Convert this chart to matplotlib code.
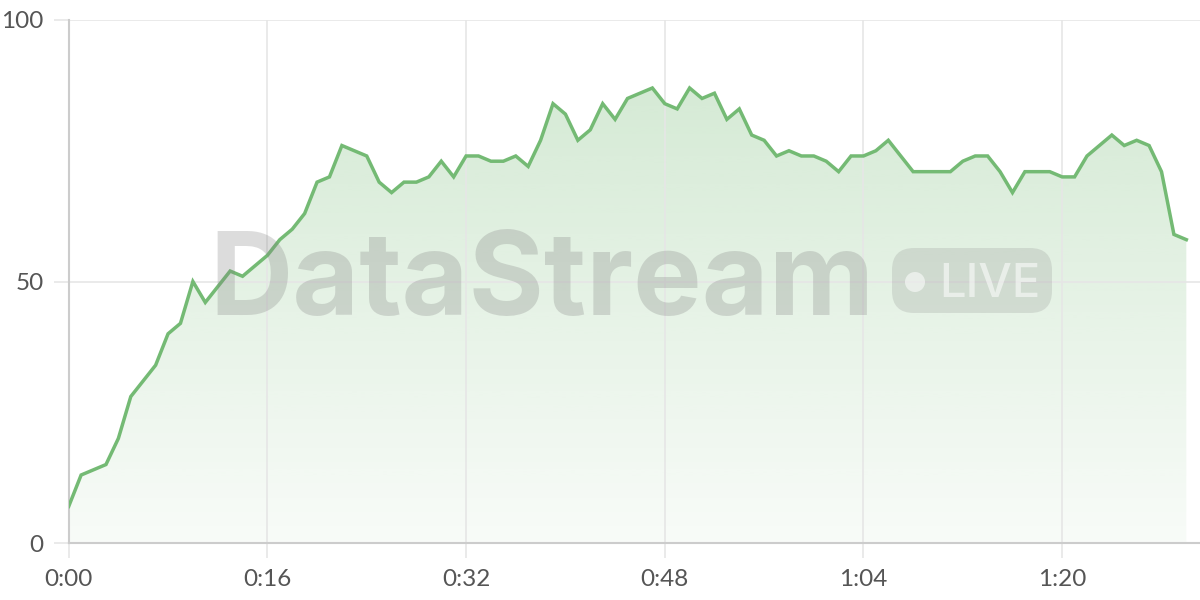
import numpy as np
import matplotlib.pyplot as plt
from matplotlib.patches import FancyBboxPatch, Circle, Polygon
from matplotlib.colors import to_rgb

# one sample per second, 0:00 .. 1:30
seconds = list(range(91))
values = [7, 13, 14, 15, 20, 28, 31, 34, 40, 42,
          50, 46, 49, 52, 51, 53, 55, 58, 60, 63,
          69, 70, 76, 75, 74, 69, 67, 69, 69, 70,
          73, 70, 74, 74, 73, 73, 74, 72, 77, 84,
          82, 77, 79, 84, 81, 85, 86, 87, 84, 83,
          87, 85, 86, 81, 83, 78, 77, 74, 75, 74,
          74, 73, 71, 74, 74, 75, 77, 74, 71, 71,
          71, 71, 73, 74, 74, 71, 67, 71, 71, 71,
          70, 70, 74, 76, 78, 76, 77, 76, 71, 59,
          58]
x_ticks = [0, 16, 32, 48, 64, 80]
y_ticks = [0, 50, 100]

line_col = '#74ba74'
grid_col = '#e6e6e6'
text_col = '#555555'

W, H = 1200, 600
fig = plt.figure(figsize=(12, 6), dpi=100)
ax = fig.add_axes([68.7 / W, 57 / H, 1 - 68.7 / W, 523 / H])

x = np.array(seconds)
y = np.array(values)

# gradient fill under the line
rgb = to_rgb(line_col)
n = 256
grad = np.zeros((n, 1, 4))
grad[:, 0, :3] = rgb
grad[:, 0, 3] = np.linspace(0.30, 0.05, n)
top = y.max()
img = ax.imshow(grad, aspect='auto', extent=[x[0], x[-1], 0, top],
                origin='upper', zorder=1, interpolation='bilinear')
verts = np.column_stack([np.r_[x, x[-1], x[0]], np.r_[y, 0, 0]])
clip = Polygon(verts, closed=True, transform=ax.transData, facecolor='none',
               edgecolor='none')
ax.add_patch(clip)
img.set_clip_path(clip)

ax.plot(x, y, color=line_col, lw=2.5, zorder=4, solid_joinstyle='miter')

ax.set_xlim(0, 91.1)
ax.set_ylim(0, 100)
ax.set_xticks(x_ticks)
ax.set_xticklabels(['%d:%02d' % (t // 60, t % 60) for t in x_ticks])
ax.set_yticks(y_ticks)
ax.grid(True, color=grid_col, lw=1.2, zorder=0)
ax.tick_params(length=11, width=1.2, color=grid_col, labelcolor=text_col,
               labelsize=17.5, pad=7)
ax.tick_params(axis='x', pad=8)
for lab in ax.get_xticklabels() + ax.get_yticklabels():
    lab.set_family('Lato')
for s in ['top', 'right']:
    ax.spines[s].set_visible(False)
for s in ['left', 'bottom']:
    ax.spines[s].set_color('#cccccc')
    ax.spines[s].set_linewidth(1.5)

# watermark
fig.text(209 / W, (H - 315) / H, 'DataStream', family='Inter', weight='bold',
         fontsize=83, color='#808080', alpha=0.27, va='baseline', ha='left',
         zorder=3)
badge = FancyBboxPatch((892, H - 313), 160, 65,
                       boxstyle='round,pad=0,rounding_size=22',
                       transform=None, facecolor='#808080', alpha=0.2,
                       edgecolor='none', zorder=3)
fig.patches.append(badge)
dot = Circle((915, H - 282), 10, transform=None, facecolor='white', alpha=0.55,
             edgecolor='none', zorder=3)
fig.patches.append(dot)
fig.text(939 / W, (H - 297) / H, 'LIVE', family='Inter', weight='medium',
         fontsize=34, color='white', alpha=0.55, va='baseline', ha='left',
         zorder=3)

fig.savefig('out.png', dpi=100)
